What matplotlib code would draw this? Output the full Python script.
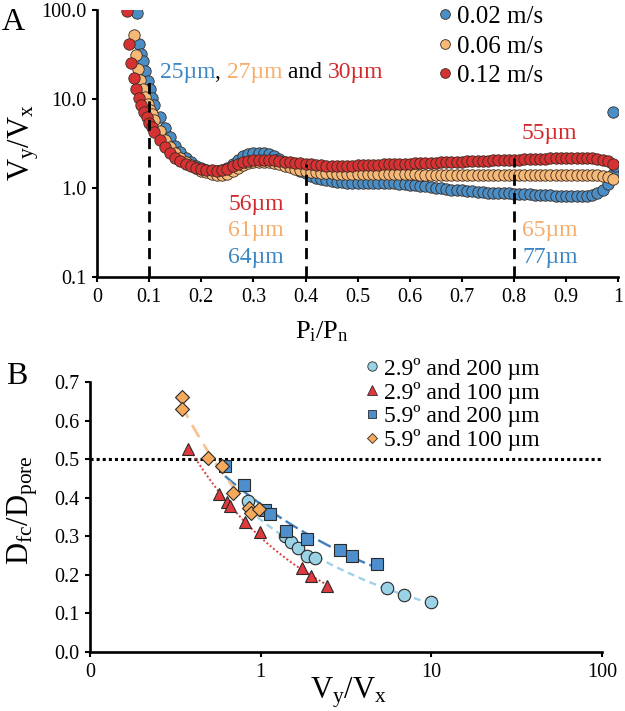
import numpy as np
import matplotlib
matplotlib.use("Agg")
import matplotlib.pyplot as plt
from matplotlib.lines import Line2D

plt.rcParams["font.family"] = ["Liberation Serif", "DejaVu Serif"]
plt.rcParams["mathtext.fontset"] = "custom"
plt.rcParams["mathtext.rm"] = "Liberation Serif"
plt.rcParams["mathtext.it"] = "Liberation Serif:italic"

# ---------------- panel A data (Pi/Pn vs Vy/Vx) ----------------
p_grid = np.round(np.arange(0.11, 0.995, 0.01), 2)

blue_x0 = [0.076, 0.080, 0.084, 0.088, 0.092, 0.097, 0.101, 0.105]
blue_y0 = [92, 42, 32, 26.7, 20.6, 15.9, 12.9, 10.2]
blue_y = [8.5, 6.2, 4.7, 3.7, 3.0, 2.55, 2.2, 1.95, 1.78, 1.67,
          1.6, 1.56, 1.55, 1.58, 1.68, 1.86, 2.06, 2.26, 2.4, 2.48,
          2.5, 2.48, 2.41, 2.29, 2.14, 1.98, 1.82, 1.68, 1.56, 1.46,
          1.38, 1.31, 1.26, 1.22, 1.19, 1.17, 1.16, 1.15, 1.15, 1.15,
          1.15, 1.15, 1.15, 1.15, 1.15, 1.14, 1.13, 1.12, 1.11, 1.09,
          1.07, 1.06, 1.04, 1.02, 1.01, 0.99, 0.98, 0.96, 0.95, 0.94,
          0.93, 0.92, 0.91, 0.9, 0.89, 0.88, 0.88, 0.87, 0.87, 0.86,
          0.86, 0.85, 0.85, 0.84, 0.84, 0.83, 0.83, 0.82, 0.82, 0.81,
          0.81, 0.81, 0.81, 0.82, 0.84, 0.88, 0.96, 1.12, 1.45]
blue_x_end = [0.994]
blue_y_end = [1.75]
blue_outlier = (0.99, 7.2)

orange_x0 = [0.0705, 0.074, 0.079, 0.083, 0.088, 0.092, 0.097, 0.101, 0.105]
orange_y0 = [52, 31, 22, 16.5, 12.8, 10.5, 8.8, 7.6, 6.7]
orange_y = [5.8, 4.4, 3.5, 2.9, 2.5, 2.2, 1.98, 1.8, 1.67, 1.57,
            1.5, 1.45, 1.41, 1.4, 1.44, 1.54, 1.68, 1.8, 1.9, 1.95,
            1.97, 1.97, 1.95, 1.91, 1.85, 1.78, 1.71, 1.65, 1.6, 1.56,
            1.53, 1.5, 1.48, 1.47, 1.46, 1.45, 1.45, 1.44, 1.44, 1.44,
            1.44, 1.44, 1.44, 1.44, 1.44, 1.43, 1.43, 1.43, 1.42, 1.42,
            1.42, 1.41, 1.41, 1.41, 1.4, 1.4, 1.4, 1.4, 1.39, 1.39,
            1.39, 1.39, 1.39, 1.39, 1.39, 1.39, 1.39, 1.39, 1.39, 1.39,
            1.39, 1.4, 1.4, 1.4, 1.4, 1.41, 1.41, 1.41, 1.41, 1.41,
            1.41, 1.41, 1.41, 1.41, 1.4, 1.39, 1.37, 1.33, 1.25]

red_x0 = [0.057, 0.0615, 0.066, 0.0705, 0.075, 0.08, 0.085, 0.09, 0.095, 0.10, 0.105]
red_y0 = [98, 41, 25.6, 17.2, 13, 10.3, 8.5, 7.2, 6.2, 5.4, 4.8]
red_y = [4.3, 3.5, 2.9, 2.5, 2.2, 2.0, 1.85, 1.75, 1.68, 1.63,
         1.6, 1.58, 1.57, 1.58, 1.65, 1.76, 1.88, 1.97, 2.03, 2.06,
         2.07, 2.07, 2.06, 2.04, 2.01, 1.98, 1.95, 1.92, 1.89, 1.86,
         1.84, 1.82, 1.8, 1.79, 1.78, 1.78, 1.78, 1.79, 1.79, 1.8,
         1.81, 1.82, 1.82, 1.83, 1.84, 1.85, 1.86, 1.87, 1.88, 1.88,
         1.89, 1.9, 1.91, 1.92, 1.93, 1.94, 1.95, 1.96, 1.97, 1.98,
         1.99, 2.0, 2.01, 2.02, 2.03, 2.04, 2.05, 2.06, 2.07, 2.08,
         2.09, 2.1, 2.11, 2.12, 2.13, 2.14, 2.15, 2.16, 2.17, 2.17,
         2.18, 2.18, 2.18, 2.17, 2.16, 2.13, 2.09, 2.02, 1.88]

series_labels = ["0.02 m/s", "0.06 m/s", "0.12 m/s"]
series_colors = ["#4a8ec8", "#f7b978", "#d63234"]

# vertical guide lines: x position and height
guide_x = [0.1, 0.4, 0.8]
guide_top = [16.3, 1.86, 2.2]

# ---------------- panel B data (Vy/Vx vs Dfc/Dpore) ----------------
c29_200_x = [0.846, 1.39, 1.50, 1.65, 1.88, 2.09, 5.52, 6.89, 9.9]
c29_200_y = [0.392, 0.300, 0.286, 0.269, 0.248, 0.243, 0.165, 0.148, 0.130]
t29_100_x = [0.377, 0.57, 0.637, 0.66, 0.81, 0.99, 1.74, 1.96, 2.44]
t29_100_y = [0.527, 0.409, 0.390, 0.378, 0.338, 0.310, 0.218, 0.198, 0.170]
s59_200_x = [0.618, 0.80, 1.06, 1.13, 1.41, 1.86, 2.92, 3.41, 4.79]
s59_200_y = [0.483, 0.433, 0.369, 0.358, 0.314, 0.293, 0.264, 0.249, 0.228]
d59_100_x = [0.344, 0.346, 0.493, 0.596, 0.69, 0.853, 0.88, 0.977]
d59_100_y = [0.660, 0.631, 0.502, 0.482, 0.412, 0.373, 0.360, 0.372]

b_labels = ["2.9º and 200 µm", "2.9º and 100 µm", "5.9º and 200 µm", "5.9º and 100 µm"]

fig = plt.figure(figsize=(6.25, 7.11), dpi=100)
axA = fig.add_axes([0.1552, 0.6104, 0.834, 0.3755])
axB = fig.add_axes([0.144, 0.083, 0.8192, 0.3797])

for ax in (axA, axB):
    for side in ("top", "right"):
        ax.spines[side].set_visible(False)
    for side in ("left", "bottom"):
        ax.spines[side].set_linewidth(1.9)
    ax.tick_params(direction="out", length=3.8, width=1.5, labelsize=14.5, pad=4)

# ---- panel A ----
blue_x = list(blue_x0) + list(p_grid) + blue_x_end
blue_all = list(blue_y0) + blue_y + blue_y_end
orange_x = list(orange_x0) + list(p_grid)
orange_all = list(orange_y0) + orange_y
red_x = list(red_x0) + list(p_grid)
red_all = list(red_y0) + red_y

mk = dict(marker="o", linestyle="none", markersize=8.2, markeredgecolor="#3a2a20",
          markeredgewidth=0.6)
axA.plot(blue_x, blue_all, markerfacecolor=series_colors[0], zorder=3, **mk)
axA.plot([blue_outlier[0]], [blue_outlier[1]], markerfacecolor=series_colors[0], zorder=3, **mk)
axA.plot(orange_x, orange_all, markerfacecolor=series_colors[1], zorder=4, **mk)
axA.plot(red_x, red_all, markerfacecolor=series_colors[2], zorder=5, **mk)

for gx, gt in zip(guide_x, guide_top):
    axA.plot([gx, gx], [0.1, gt], color="black", lw=2.0, ls=(0, (4, 2.6)), zorder=6)

axA.set_yscale("log")
axA.set_xlim(0, 1)
axA.set_ylim(0.1, 100)
axA.set_xticks(np.round(np.arange(0, 1.01, 0.1), 1),
               ["0", "0.1", "0.2", "0.3", "0.4", "0.5", "0.6", "0.7", "0.8", "0.9", "1"])
axA.set_yticks([0.1, 1, 10, 100], ["0.1", "1.0", "10.0", "100.0"])
axA.minorticks_off()

handles = [Line2D([], [], marker="o", ls="none", markersize=7, markerfacecolor=c,
                  markeredgecolor="#3a2a20", markeredgewidth=0.6) for c in series_colors]
axA.legend(handles, series_labels, loc="upper left", bbox_to_anchor=(0.692, 0.992),
           bbox_transform=fig.transFigure, frameon=False, fontsize=18,
           handletextpad=0.0, handlelength=1.0, labelspacing=0.28,
           borderpad=0, borderaxespad=0)

txt_blue, txt_orange, txt_red = "#3d86c4", "#f5ad6c", "#d22a2c"
t = axA.text(0.12, 20.1, "25µm", color=txt_blue, fontsize=17, va="center", ha="left")
for s, c in [(", ", "black"), ("27µm", txt_orange), (" and ", "black"), ("30µm", txt_red)]:
    t = axA.annotate(s, xy=(1, 0), xycoords=t, va="bottom", ha="left", color=c, fontsize=17)
axA.text(0.867, 4.15, "55µm", color=txt_red, fontsize=17, ha="center", va="center")
axA.text(0.252, 0.66, "56µm", color=txt_red, fontsize=17, ha="left", va="center")
axA.text(0.252, 0.33, "61µm", color=txt_orange, fontsize=17, ha="left", va="center")
axA.text(0.252, 0.165, "64µm", color=txt_blue, fontsize=17, ha="left", va="center")
axA.text(0.816, 0.33, "65µm", color=txt_orange, fontsize=17, ha="left", va="center")
axA.text(0.816, 0.165, "77µm", color=txt_blue, fontsize=17, ha="left", va="center")

fig.text(0.515, 0.533, r"P$_\mathrm{i}$/P$_\mathrm{n}$", fontsize=19, ha="center", va="center")
fig.text(0.038, 0.80, r"V$_\mathrm{y}$/V$_\mathrm{x}$", fontsize=22, rotation=90,
         ha="center", va="center")
fig.text(0.021, 0.969, "A", fontsize=23, ha="center", va="center")

# ---- panel B ----
fits = [
    (c29_200_x, c29_200_y, "#9fd2e8", (0, (3, 2)), 1.7),
    (t29_100_x, t29_100_y, "#e0393e", (0, (1, 1.2)), 1.4),
    (s59_200_x, s59_200_y, "#3f7fbf", (0, (6, 2)), 1.7),
    (d59_100_x, d59_100_y, "#f8c390", (0, (5, 3)), 2.0),
]
for fx, fy, c, ls, lw in fits:
    b, a = np.polyfit(np.log(fx), np.log(fy), 1)
    xx = np.geomspace(min(fx), max(fx), 60)
    axB.plot(xx, np.exp(a) * xx ** b, color=c, ls=ls, lw=lw, zorder=2)

axB.axhline(0.5, color="black", lw=2.2, ls=(0, (1, 1)), zorder=1)

bmk = [
    (c29_200_x, c29_200_y, "o", "#9ad2e6", 9.0),
    (t29_100_x, t29_100_y, "^", "#e0393e", 9.0),
    (s59_200_x, s59_200_y, "s", "#4d8fcc", 8.5),
    (d59_100_x, d59_100_y, "D", "#f6a95a", 7.0),
]
for bx, by, m, c, ms in bmk:
    axB.plot(bx, by, marker=m, ls="none", markersize=ms, markerfacecolor=c,
             markeredgecolor="#2a2a2a", markeredgewidth=0.8, zorder=3)

axB.set_xscale("log")
axB.set_xlim(0.1, 100)
axB.set_ylim(0, 0.7)
axB.set_xticks([0.1, 1, 10, 100], ["0", "1", "10", "100"])
axB.set_yticks(np.round(np.arange(0, 0.71, 0.1), 1),
               ["0.0", "0.1", "0.2", "0.3", "0.4", "0.5", "0.6", "0.7"])
axB.minorticks_off()

bh = [Line2D([], [], marker=m, ls="none", markersize=ms * 0.75, markerfacecolor=c,
             markeredgecolor="#2a2a2a", markeredgewidth=0.6) for _, _, m, c, ms in bmk]
axB.legend(bh, b_labels, loc="upper left", bbox_to_anchor=(0.576, 0.497),
           bbox_transform=fig.transFigure, frameon=False, fontsize=17,
           handletextpad=0.0, handlelength=1.0, labelspacing=0.08,
           borderpad=0, borderaxespad=0)

fig.text(0.557, 0.026, r"V$_\mathrm{y}$/V$_\mathrm{x}$", fontsize=22, ha="center", va="center")
fig.text(0.036, 0.283, r"D$_\mathrm{fc}$/D$_\mathrm{pore}$", fontsize=22, rotation=90,
         ha="center", va="center")
fig.text(0.027, 0.470, "B", fontsize=23, ha="center", va="center")

fig.savefig("out.png", dpi=100)
